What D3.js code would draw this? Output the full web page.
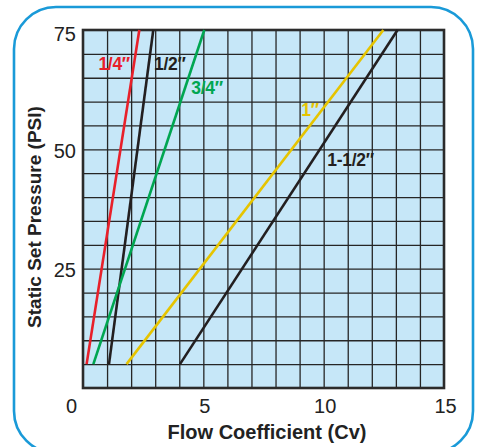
<!DOCTYPE html>
<html><head><meta charset="utf-8">
<script src="https://cdn.jsdelivr.net/npm/d3@7"></script>
<style>
html,body{margin:0;padding:0;background:#fff;}
svg{display:block;font-family:"Liberation Sans",Arial,Helvetica,sans-serif;}
</style></head>
<body>
<svg id="chart" width="478" height="447"></svg>
<script>
// ---- data ----
const sizes = ["1/4\u2033", "1/2\u2033", "3/4\u2033", "1\u2033", "1-1/2\u2033"];
const colors = ["#e8202a", "#231f20", "#00a651", "#e6c400", "#231f20"];
const pressures = [5, 75];                       // PSI at line start / end
const cvAtStart = [0.15, 1.08, 0.43, 1.81, 4.03]; // Cv at 5 PSI
const cvAtEnd   = [2.34, 2.92, 5.04, 12.48, 13.07]; // Cv at 75 PSI
const xTicks = [0, 5, 10, 15];
const yTicks = [25, 50, 75];
// label anchors (data units) and text anchors
const labelCv  = [1.95, 2.95, 4.5, 9.8, 10.15];
const labelPsi = [66.6, 66.6, 61.6, 56.9, 46.6];
const labelAnchor = ["end", "start", "start", "end", "start"];

// ---- layout ----
const svg = d3.select("#chart");
const m = {l: 83, t: 30, r: 444, b: 388};
const x = d3.scaleLinear().domain([0, 15]).range([m.l, m.r]);
const y = d3.scaleLinear().domain([0, 75]).range([m.b, m.t]);

// outer rounded frame
svg.append("rect").attr("x", 14).attr("y", 7).attr("width", 459).attr("height", 446)
  .attr("rx", 42).attr("ry", 42).attr("fill", "none")
  .attr("stroke", "#1a9ad8").attr("stroke-width", 2.6);

// plot background
svg.append("rect").attr("x", m.l).attr("y", m.t).attr("width", m.r - m.l).attr("height", m.b - m.t)
  .attr("fill", "#c6e7f8");

// grid via axes
const gx = svg.append("g").attr("transform", `translate(0,${m.b})`)
  .call(d3.axisBottom(x).tickValues(d3.range(1, 15)).tickSize(-(m.b - m.t)).tickFormat(""));
const gy = svg.append("g").attr("transform", `translate(${m.l},0)`)
  .call(d3.axisLeft(y).tickValues(d3.range(5, 75, 5)).tickSize(-(m.r - m.l)).tickFormat(""));
[gx, gy].forEach(g => {
  g.select(".domain").remove();
  g.selectAll("line").attr("stroke", "#262626").attr("stroke-width", 1.3);
});

// frame of plot
svg.append("rect").attr("x", m.l).attr("y", m.t).attr("width", m.r - m.l).attr("height", m.b - m.t)
  .attr("fill", "none").attr("stroke", "#2b2b2b").attr("stroke-width", 2.6);

// tick labels via axes
const ax = svg.append("g").attr("transform", `translate(0,${m.b})`)
  .call(d3.axisBottom(x).tickValues(xTicks).tickSize(0).tickPadding(25));
ax.select(".domain").remove();
ax.selectAll("text").attr("font-size", 20).attr("fill", "#222").attr("dy", 0)
  .attr("font-family", '"Liberation Sans",Arial,sans-serif')
  .attr("dx", d => d === 0 ? -12 : 1);
const ay = svg.append("g").attr("transform", `translate(${m.l},0)`)
  .call(d3.axisLeft(y).tickValues(yTicks).tickSize(0).tickPadding(7));
ay.select(".domain").remove();
ay.selectAll("text").attr("font-size", 20).attr("fill", "#222")
  .attr("font-family", '"Liberation Sans",Arial,sans-serif')
  .attr("dy", d => d === 75 ? "0.5em" : "0.4em");

// series lines
const line = d3.line().x(d => x(d[0])).y(d => y(d[1]));
sizes.forEach((s, i) => {
  const pts = [[cvAtStart[i], pressures[0]], [cvAtEnd[i], pressures[1]]];
  svg.append("path").attr("d", line(pts)).attr("fill", "none")
    .attr("stroke", colors[i]).attr("stroke-width", 2.6);
});

// series labels
sizes.forEach((s, i) => {
  svg.append("text").attr("x", x(labelCv[i])).attr("y", y(labelPsi[i]))
    .attr("text-anchor", labelAnchor[i]).attr("font-size", 17.5).attr("font-weight", "bold")
    .attr("fill", colors[i]).attr("letter-spacing", -0.3).text(s);
});

// axis titles
svg.append("text").attr("x", 267).attr("y", 439).attr("text-anchor", "middle")
  .attr("font-size", 20).attr("font-weight", "bold").attr("fill", "#222")
  .text("Flow Coefficient (Cv)");
svg.append("text").attr("transform", "translate(41,217) rotate(-90)").attr("text-anchor", "middle")
  .attr("font-size", 19).attr("font-weight", "bold").attr("fill", "#222")
  .text("Static Set Pressure (PSI)");
</script>
</body></html>
